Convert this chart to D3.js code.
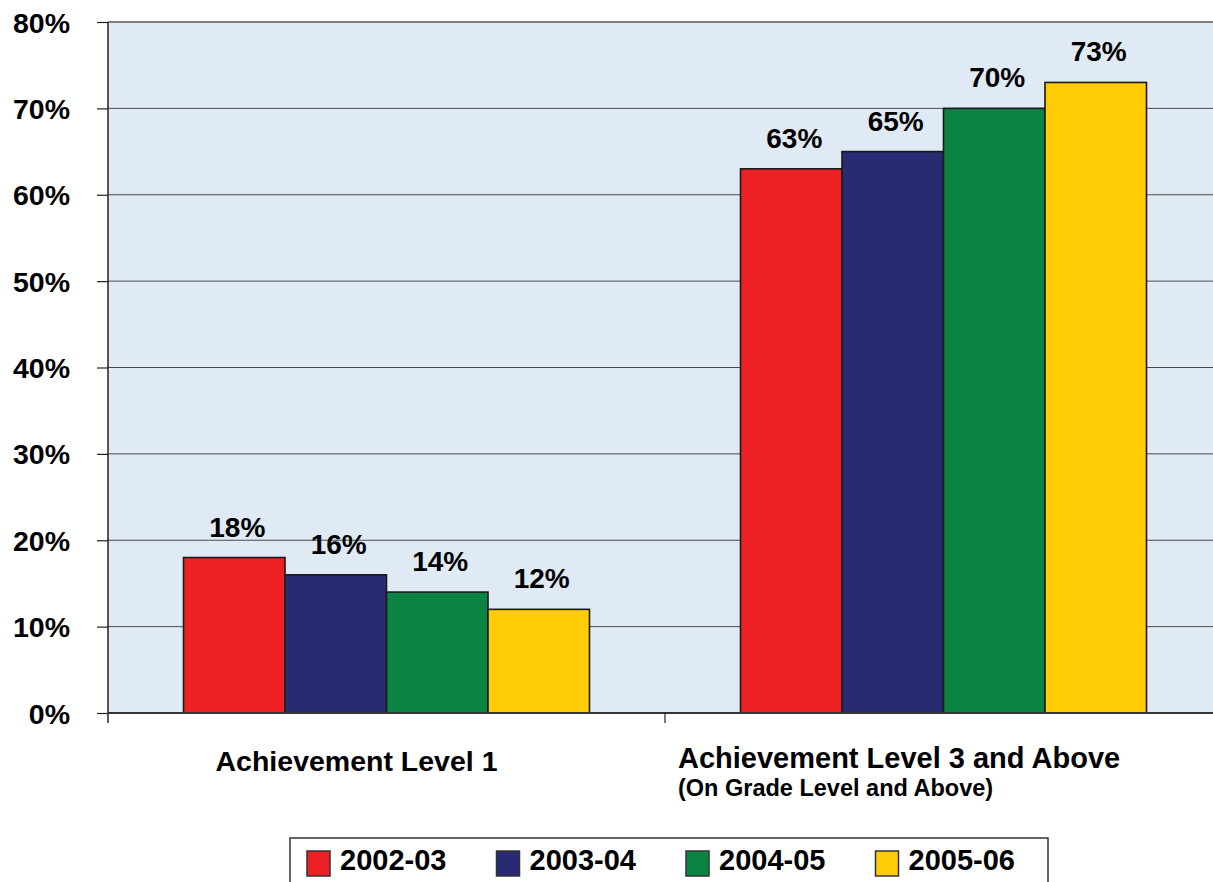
<!DOCTYPE html>
<html>
<head>
<meta charset="utf-8">
<script src="https://cdnjs.cloudflare.com/ajax/libs/d3/7.8.5/d3.min.js"></script>
<style>
  html, body { margin: 0; padding: 0; background: #ffffff; }
  svg { display: block; }
  text { font-family: "Liberation Sans", Arial, sans-serif; font-weight: bold; fill: #000; }
</style>
</head>
<body>
<svg id="chart" width="1213" height="882"></svg>
<script>
const categories = ["Achievement Level 1", "Achievement Level 3 and Above"];
const categorySubtitles = ["", "(On Grade Level and Above)"];
const series = ["2002-03", "2003-04", "2004-05", "2005-06"];
const values2002 = [18, 63];
const values2003 = [16, 65];
const values2004 = [14, 70];
const values2005 = [12, 73];
const yTicks = [0, 10, 20, 30, 40, 50, 60, 70, 80];
const colors = ["#ED2024", "#282A72", "#0B8443", "#FFCC05"];

const seriesValues = [values2002, values2003, values2004, values2005];

const svg = d3.select("#chart");
const plot = { left: 108, right: 1222, top: 22, bottom: 713 };

const y = d3.scaleLinear().domain([0, 80]).range([plot.bottom, plot.top]);
const x0 = d3.scaleBand().domain(categories).range([plot.left, plot.right]).padding(0);
const x1 = d3.scaleBand().domain(series).range([0, x0.bandwidth()]).paddingInner(0).paddingOuter(0.744);
const color = d3.scaleOrdinal().domain(series).range(colors);

// plot background
svg.append("rect")
  .attr("x", plot.left).attr("y", plot.top)
  .attr("width", plot.right - plot.left).attr("height", plot.bottom - plot.top)
  .attr("fill", "#E0EAF4");

// gridlines
svg.append("g").selectAll("line")
  .data(yTicks.filter(d => d > 0 && d < 80))
  .join("line")
  .attr("x1", plot.left).attr("x2", plot.right)
  .attr("y1", d => y(d)).attr("y2", d => y(d))
  .attr("stroke", "#4a4a4a").attr("stroke-width", 1);

// top border
svg.append("line")
  .attr("x1", plot.left).attr("x2", plot.right)
  .attr("y1", y(80)).attr("y2", y(80))
  .attr("stroke", "#808080").attr("stroke-width", 2);

// bars
const groups = svg.append("g").selectAll("g")
  .data(categories)
  .join("g")
  .attr("transform", d => `translate(${x0(d)},0)`);

groups.selectAll("rect")
  .data((c, ci) => series.map((s, si) => ({ s, v: seriesValues[si][ci] })))
  .join("rect")
  .attr("x", d => x1(d.s))
  .attr("y", d => y(d.v))
  .attr("width", x1.bandwidth())
  .attr("height", d => y(0) - y(d.v))
  .attr("fill", d => color(d.s))
  .attr("stroke", "#1a1a1a")
  .attr("stroke-width", 1.6);

// value labels
groups.selectAll("text.val")
  .data((c, ci) => series.map((s, si) => ({ s, v: seriesValues[si][ci] })))
  .join("text")
  .attr("class", "val")
  .attr("text-anchor", "middle")
  .attr("font-size", 28)
  .attr("x", d => x1(d.s) + x1.bandwidth() / 2 + 3)
  .attr("y", d => y(d.v) - 21)
  .text(d => d.v + "%");

// y axis
const yAxis = d3.axisLeft(y).tickValues(yTicks).tickFormat(d => d + "%").tickSize(11).tickPadding(0);
const yg = svg.append("g").attr("transform", `translate(${plot.left},0)`).call(yAxis);
yg.select(".domain").remove();
yg.selectAll(".tick line").attr("stroke", "#222").attr("stroke-width", 1.2);
yg.selectAll(".tick text")
  .attr("text-anchor", "end")
  .attr("font-size", 28.5)
  .attr("font-family", "'Liberation Sans', Arial, sans-serif")
  .attr("font-weight", "bold")
  .attr("fill", "#000")
  .attr("x", -38)
  .attr("dy", 10);

svg.append("line")
  .attr("x1", plot.left).attr("x2", plot.left)
  .attr("y1", plot.top).attr("y2", plot.bottom + 10)
  .attr("stroke", "#222").attr("stroke-width", 1.5);

// x axis
svg.append("line")
  .attr("x1", plot.left).attr("x2", plot.right)
  .attr("y1", plot.bottom).attr("y2", plot.bottom)
  .attr("stroke", "#333").attr("stroke-width", 2);
svg.append("g").selectAll("line")
  .data(categories.slice(1))
  .join("line")
  .attr("x1", d => x0(d)).attr("x2", d => x0(d))
  .attr("y1", plot.bottom).attr("y2", plot.bottom + 10)
  .attr("stroke", "#222").attr("stroke-width", 1.2);

// category labels
svg.append("text")
  .attr("text-anchor", "middle")
  .attr("font-size", 28.5)
  .attr("x", x0(categories[0]) + x0.bandwidth() / 2 - 30)
  .attr("y", 771)
  .text(categories[0]);

const c2x = 678;
svg.append("text")
  .attr("text-anchor", "start")
  .attr("font-size", 29)
  .attr("x", c2x).attr("y", 768)
  .text(categories[1]);
svg.append("text")
  .attr("text-anchor", "start")
  .attr("font-size", 23.5)
  .attr("x", c2x).attr("y", 796)
  .text(categorySubtitles[1]);

// legend
svg.append("rect")
  .attr("x", 290).attr("y", 838)
  .attr("width", 758).attr("height", 70)
  .attr("fill", "#ffffff")
  .attr("stroke", "#333").attr("stroke-width", 1.5);

const legend = svg.append("g").selectAll("g")
  .data(series)
  .join("g")
  .attr("transform", (d, i) => `translate(${307 + i * 189.5},851)`);
legend.append("rect")
  .attr("width", 23).attr("height", 25)
  .attr("fill", d => color(d))
  .attr("stroke", "#333").attr("stroke-width", 1.5);
legend.append("text")
  .attr("font-size", 29)
  .attr("x", 33).attr("y", 19)
  .text(d => d);
</script>
</body>
</html>
